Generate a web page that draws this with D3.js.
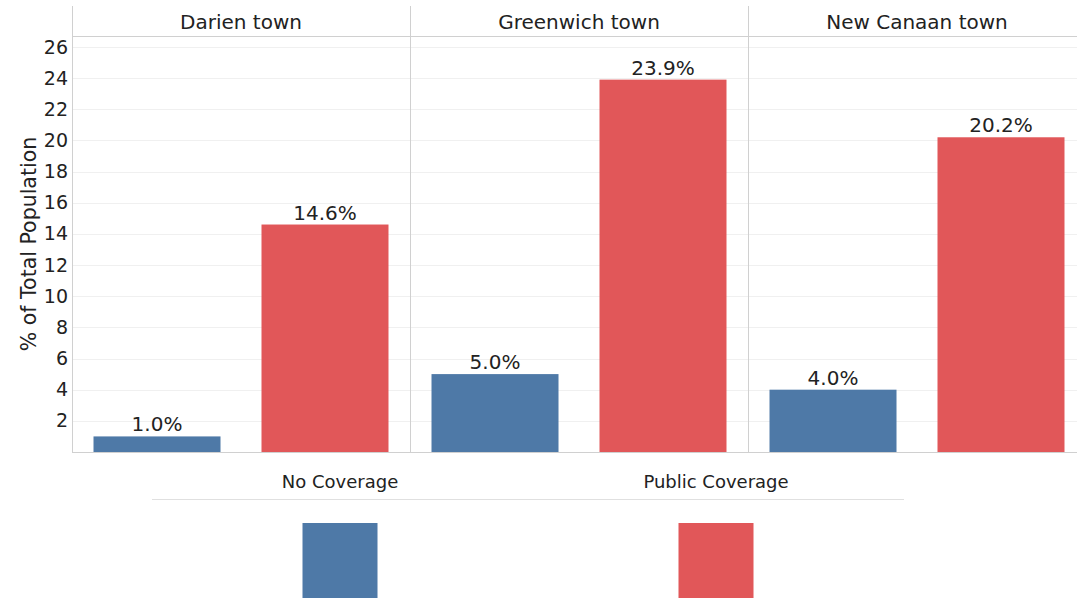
<!DOCTYPE html>
<html>
<head>
<meta charset="utf-8">
<script src="https://cdn.jsdelivr.net/npm/d3@7"></script>
<style>
  html, body { margin: 0; padding: 0; background: #fff; }
  svg { display: block; font-family: "DejaVu Sans", sans-serif; }
</style>
</head>
<body>
<svg id="chart" width="1077" height="599"></svg>
<script>
// Health coverage by town, share of total population
const towns = ["Darien town", "Greenwich town", "New Canaan town"];
const coverageTypes = ["No Coverage", "Public Coverage"];
const noCoverage = [1.0, 5.0, 4.0];
const publicCoverage = [14.6, 23.9, 20.2];
const yTicks = [2, 4, 6, 8, 10, 12, 14, 16, 18, 20, 22, 24, 26];
const colors = ["#4e79a7", "#e15759"];

const svg = d3.select("#chart");
const W = 1077;
const plotLeft = 72, plotTop = 36, plotBottom = 452;
const panelWidth = 338;

const y = d3.scaleLinear().domain([0, 26.7]).range([plotBottom, plotTop]);
const panelX = d3.scaleBand().domain(towns).range([plotLeft, plotLeft + panelWidth * towns.length]);
const barX = d3.scaleBand().domain(coverageTypes).range([0, panelWidth]).paddingInner(0.244).paddingOuter(0.128);

const clip = svg.append("defs").append("clipPath").attr("id", "plotclip");
clip.append("rect").attr("x", plotLeft).attr("y", 0).attr("width", W - plotLeft).attr("height", 599);

const plot = svg.append("g").attr("clip-path", "url(#plotclip)");

// gridlines
plot.append("g")
  .selectAll("line").data(yTicks).join("line")
  .attr("x1", plotLeft).attr("x2", W)
  .attr("y1", d => Math.round(y(d)) + 0.5).attr("y2", d => Math.round(y(d)) + 0.5)
  .attr("stroke", "#f0f0f0").attr("stroke-width", 1);

// y axis ticks
const yAxis = d3.axisLeft(y).tickValues(yTicks).tickSize(0).tickPadding(4);
const yg = svg.append("g").attr("transform", `translate(${plotLeft},0)`).call(yAxis);
yg.select(".domain").remove();
yg.selectAll("text").attr("font-size", 19).attr("fill", "#222")
  .attr("font-family", "DejaVu Sans, sans-serif");

// y axis title
svg.append("text")
  .attr("transform", `translate(36,244) rotate(-90)`)
  .attr("text-anchor", "middle")
  .attr("font-size", 20.5).attr("fill", "#222")
  .text("% of Total Population");

// panels
towns.forEach((town, i) => {
  const x0 = panelX(town);
  const g = plot.append("g").attr("transform", `translate(${x0},0)`);
  const vals = [noCoverage[i], publicCoverage[i]];

  g.selectAll("rect.bar").data(coverageTypes).join("rect")
    .attr("class", "bar")
    .attr("x", d => barX(d))
    .attr("width", barX.bandwidth())
    .attr("y", (d, j) => y(vals[j]))
    .attr("height", (d, j) => y(0) - y(vals[j]))
    .attr("fill", (d, j) => colors[j]);

  g.selectAll("text.val").data(coverageTypes).join("text")
    .attr("class", "val")
    .attr("x", d => barX(d) + barX.bandwidth() / 2)
    .attr("y", (d, j) => y(vals[j]) - 5)
    .attr("text-anchor", "middle")
    .attr("font-size", 20).attr("fill", "#222")
    .text((d, j) => vals[j].toFixed(1) + "%");

  g.append("text")
    .attr("x", panelWidth / 2).attr("y", 29)
    .attr("text-anchor", "middle")
    .attr("font-size", 20).attr("fill", "#222")
    .text(town);
});

// frame lines: left axis, panel dividers, header and bottom rules
const frame = svg.append("g").attr("stroke", "#d0d0d0").attr("stroke-width", 1);
towns.forEach(t => {
  const x = Math.round(panelX(t)) + 0.5;
  frame.append("line").attr("x1", x).attr("x2", x).attr("y1", 6).attr("y2", plotBottom);
});
frame.append("line").attr("x1", plotLeft).attr("x2", W).attr("y1", plotTop + 0.5).attr("y2", plotTop + 0.5);
frame.append("line").attr("x1", plotLeft).attr("x2", W).attr("y1", plotBottom + 0.5).attr("y2", plotBottom + 0.5);

// legend
const legendX = d3.scaleBand().domain(coverageTypes).range([152, 904]);
const lg = svg.append("g");
lg.selectAll("text").data(coverageTypes).join("text")
  .attr("x", d => legendX(d) + legendX.bandwidth() / 2)
  .attr("y", 488)
  .attr("text-anchor", "middle")
  .attr("font-size", 18).attr("fill", "#222")
  .text(d => d);
lg.append("line").attr("x1", 152).attr("x2", 904).attr("y1", 499.5).attr("y2", 499.5)
  .attr("stroke", "#e0e0e0");
lg.selectAll("rect").data(coverageTypes).join("rect")
  .attr("x", d => legendX(d) + legendX.bandwidth() / 2 - 37.5)
  .attr("y", 523).attr("width", 75).attr("height", 75)
  .attr("fill", (d, j) => colors[j]);
</script>
</body>
</html>
